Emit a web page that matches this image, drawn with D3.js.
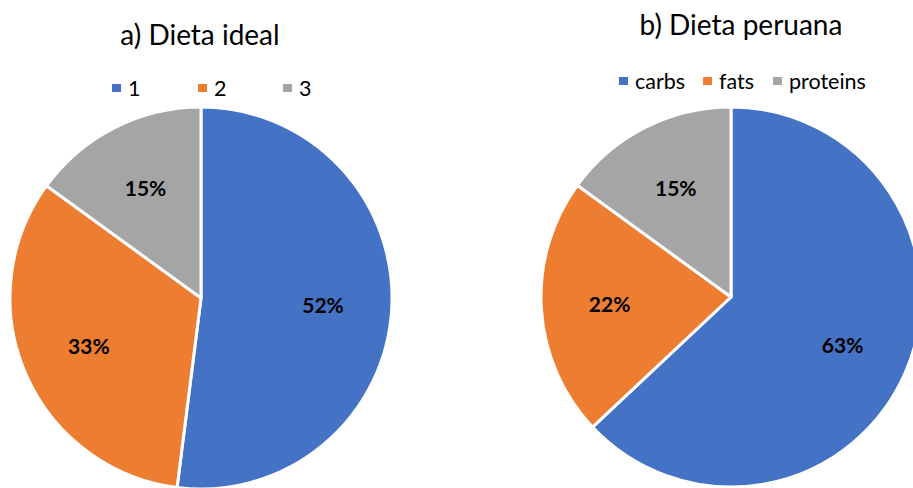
<!DOCTYPE html>
<html>
<head>
<meta charset="utf-8">
<script src="https://cdn.jsdelivr.net/npm/d3@7"></script>
<style>
  html, body { margin: 0; padding: 0; background: #fff; }
  svg { display: block; }
  text { font-family: Lato, "Open Sans", sans-serif; }
</style>
</head>
<body>
<svg id="chart" width="913" height="488"></svg>
<script>
// Macronutrient shares (%) for the two diets
const idealCategories = ["1", "2", "3"];
const idealValues = [52, 33, 15];
const peruCategories = ["carbs", "fats", "proteins"];
const peruValues = [63, 22, 15];
const titles = ["a) Dieta ideal", "b) Dieta peruana"];
const colors = ["#4472C4", "#ED7D31", "#A5A5A5"];

const svg = d3.select("#chart");

const panels = [
  { title: titles[0], cats: idealCategories, vals: idealValues,
    cx: 201, cy: 298, r: 191, titleX: 200, titleY: 45,
    legendY: 88, legendX: [112, 198, 283] },
  { title: titles[1], cats: peruCategories, vals: peruValues,
    cx: 731, cy: 297, r: 190, titleX: 741, titleY: 35,
    legendY: 81, legendX: [619, 703, 773] }
];

const pie = d3.pie().sort(null).value(d => d.value);

panels.forEach(p => {
  const data = p.cats.map((c, i) => ({ cat: c, value: p.vals[i] }));
  const color = d3.scaleOrdinal().domain(p.cats).range(colors);
  const arcs = pie(data);
  const arc = d3.arc().innerRadius(0).outerRadius(p.r);
  const labelArc = d3.arc().innerRadius(p.r * 0.64).outerRadius(p.r * 0.64);

  const g = svg.append("g").attr("transform", `translate(${p.cx},${p.cy})`);

  g.selectAll("path")
    .data(arcs)
    .join("path")
    .attr("d", arc)
    .attr("fill", d => color(d.data.cat))
    .attr("stroke", "#fff")
    .attr("stroke-width", 3)
    .attr("stroke-linejoin", "round");

  g.selectAll("text.val")
    .data(arcs)
    .join("text")
    .attr("class", "val")
    .attr("transform", d => `translate(${labelArc.centroid(d)})`)
    .attr("text-anchor", "middle")
    .attr("dy", "0.35em")
    .attr("font-size", 21)
    .attr("font-weight", "bold")
    .attr("fill", "#000")
    .text(d => d.data.value + "%");

  svg.append("text")
    .attr("x", p.titleX)
    .attr("y", p.titleY)
    .attr("text-anchor", "middle")
    .attr("font-size", 28)
    .attr("fill", "#000")
    .text(p.title);

  const lg = svg.append("g");
  p.cats.forEach((c, i) => {
    lg.append("rect")
      .attr("x", p.legendX[i])
      .attr("y", p.legendY - 4)
      .attr("width", 9)
      .attr("height", 8)
      .attr("fill", color(c));
    lg.append("text")
      .attr("x", p.legendX[i] + 16)
      .attr("y", p.legendY)
      .attr("dy", "0.35em")
      .attr("font-size", 21.5)
      .attr("fill", "#000")
      .text(c);
  });
});
</script>
</body>
</html>
